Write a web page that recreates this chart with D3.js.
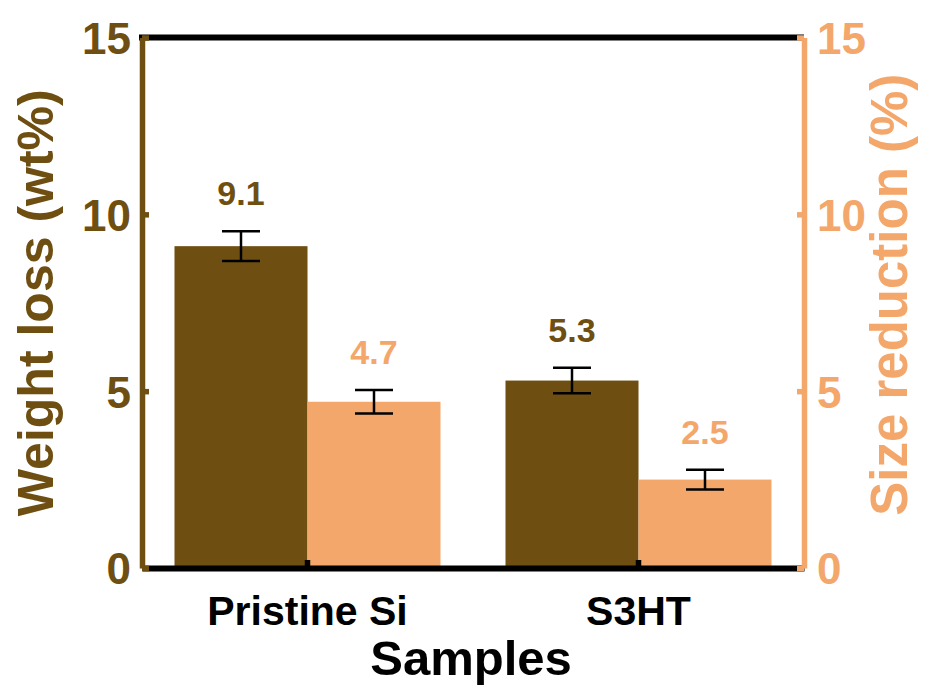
<!DOCTYPE html>
<html>
<head>
<meta charset="utf-8">
<script src="https://cdn.jsdelivr.net/npm/d3@7"></script>
<style>
  body { margin: 0; background: #fff; }
  text { font-family: "Liberation Sans", Arial, sans-serif; font-weight: bold; }
</style>
</head>
<body>
<div id="chart"></div>
<script>
// Data
const categories = ["Pristine Si", "S3HT"];
const weightLoss = [9.1, 5.3];
const weightErr = [0.42, 0.36];
const sizeReduction = [4.7, 2.5];
const sizeErr = [0.33, 0.28];
const leftTicks = [0, 5, 10, 15];
const rightTicks = [0, 5, 10, 15];

// Layout
const w = 931;
const h = 686;
const plotLeft = 142;
const plotRight = 804;
const plotTop = 37.5;
const plotBottom = 568;
const halfBar = 133;

// Colors
const brown = "#6e4f11";
const orange = "#f4a76a";

const svg = d3.select("#chart")
              .append("svg")
              .attr("width", w)
              .attr("height", h);

// Scales
const xScale = d3.scaleBand()
                 .domain(categories)
                 .range([plotLeft, plotRight])
                 .padding(0);

const yLeft = d3.scaleLinear().domain([0, 15]).range([plotBottom, plotTop]);
const yRight = d3.scaleLinear().domain([0, 15]).range([plotBottom, plotTop]);

const center = d => xScale(d) + xScale.bandwidth() / 2;

// Both series
const series = [
  { vals: weightLoss, errs: weightErr, scale: yLeft, color: brown, offset: -halfBar },
  { vals: sizeReduction, errs: sizeErr, scale: yRight, color: orange, offset: 0 }
];

series.forEach(function (s) {
  const rows = categories.map((c, i) => ({ cat: c, v: s.vals[i], e: s.errs[i] }));
  const mid = d => center(d.cat) + s.offset + halfBar / 2;

  // Bars
  svg.append("g")
     .selectAll("rect")
     .data(rows)
     .enter()
     .append("rect")
     .attr("x", d => center(d.cat) + s.offset)
     .attr("y", d => s.scale(d.v))
     .attr("width", halfBar)
     .attr("height", d => s.scale(0) - s.scale(d.v))
     .attr("fill", s.color);

  // Error bars
  const eb = svg.append("g")
                .selectAll("g")
                .data(rows)
                .enter()
                .append("g")
                .attr("stroke", "black")
                .attr("stroke-width", 2.5);

  eb.append("line")
    .attr("x1", mid).attr("x2", mid)
    .attr("y1", d => s.scale(d.v + d.e))
    .attr("y2", d => s.scale(d.v - d.e));
  eb.append("line")
    .attr("x1", d => mid(d) - 19).attr("x2", d => mid(d) + 19)
    .attr("y1", d => s.scale(d.v + d.e))
    .attr("y2", d => s.scale(d.v + d.e));
  eb.append("line")
    .attr("x1", d => mid(d) - 19).attr("x2", d => mid(d) + 19)
    .attr("y1", d => s.scale(d.v - d.e))
    .attr("y2", d => s.scale(d.v - d.e));

  // Value labels
  svg.append("g")
     .selectAll("text")
     .data(rows)
     .enter()
     .append("text")
     .attr("x", mid)
     .attr("y", d => s.scale(d.v + d.e) - 26)
     .attr("text-anchor", "middle")
     .attr("fill", s.color)
     .style("font-size", "34px")
     .text(d => d.v.toFixed(1));
});

// Top frame line
svg.append("line")
   .attr("x1", plotLeft - 3).attr("x2", plotRight)
   .attr("y1", plotTop).attr("y2", plotTop)
   .attr("stroke", "black").attr("stroke-width", 6);

// Bottom axis
const xAxis = d3.axisBottom(xScale)
                .tickSizeInner(-8)
                .tickSizeOuter(0)
                .tickPadding(28);

const gx = svg.append("g")
   .attr("transform", "translate(0," + plotBottom + ")")
   .call(xAxis);
gx.select(".domain").attr("stroke", "black").attr("stroke-width", 6);
gx.selectAll(".tick line").attr("stroke", "black").attr("stroke-width", 5.5);
gx.selectAll(".tick text")
  .attr("fill", "black")
  .style("font-size", "41px")
  .style("font-family", "Liberation Sans, Arial, sans-serif");

// Left axis
const yAxisL = d3.axisLeft(yLeft)
                 .tickValues(leftTicks)
                 .tickSizeInner(-7)
                 .tickSizeOuter(0)
                 .tickPadding(11);
const gl = svg.append("g")
   .attr("transform", "translate(" + plotLeft + ",0)")
   .call(yAxisL);
gl.select(".domain").attr("stroke", brown).attr("stroke-width", 5.5);
gl.selectAll(".tick line").attr("stroke", brown).attr("stroke-width", 5.5);
gl.selectAll(".tick text")
  .attr("fill", brown)
  .attr("dy", "0.36em")
  .style("font-size", "44px")
  .style("font-family", "Liberation Sans, Arial, sans-serif");

// Right axis
const yAxisR = d3.axisRight(yRight)
                 .tickValues(rightTicks)
                 .tickSizeInner(-7)
                 .tickSizeOuter(0)
                 .tickPadding(13);
const gr = svg.append("g")
   .attr("transform", "translate(" + plotRight + ",0)")
   .call(yAxisR);
gr.select(".domain").attr("stroke", orange).attr("stroke-width", 5.5);
gr.selectAll(".tick line").attr("stroke", orange).attr("stroke-width", 5.5);
gr.selectAll(".tick text")
  .attr("fill", orange)
  .attr("dy", "0.36em")
  .style("font-size", "44px")
  .style("font-family", "Liberation Sans, Arial, sans-serif");

// Axis titles
svg.append("text")
   .attr("transform", "translate(53," + ((plotTop + plotBottom) / 2) + ") rotate(-90)")
   .attr("text-anchor", "middle")
   .attr("fill", brown)
   .style("font-size", "50px")
   .text("Weight loss (wt%)");

svg.append("text")
   .attr("transform", "translate(907," + ((plotTop + plotBottom) / 2 - 8) + ") rotate(-90)")
   .attr("text-anchor", "middle")
   .attr("fill", orange)
   .style("font-size", "51px")
   .text("Size reduction (%)");

svg.append("text")
   .attr("x", (plotLeft + plotRight) / 2 - 2)
   .attr("y", 675)
   .attr("text-anchor", "middle")
   .attr("fill", "black")
   .style("font-size", "49px")
   .text("Samples");
</script>
</body>
</html>
